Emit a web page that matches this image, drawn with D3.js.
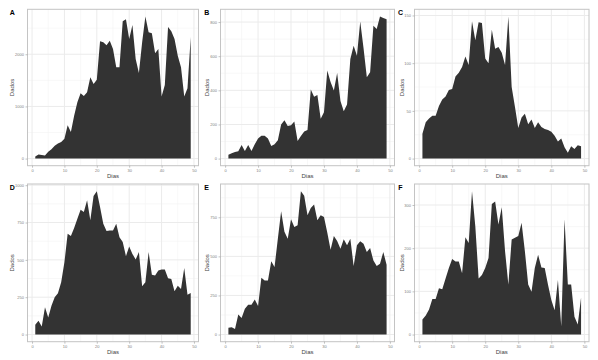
<!DOCTYPE html>
<html>
<head>
<meta charset="utf-8">
<script src="https://cdn.jsdelivr.net/npm/d3@7"></script>
<style>
  html, body { margin: 0; padding: 0; background: #ffffff; }
  svg { display: block; }
  text { font-family: "Liberation Sans", Arial, sans-serif; }
</style>
</head>
<body>
<svg id="chart" width="598" height="360"></svg>
<script>
// ---------------- DATA ----------------
const days = [1,2,3,4,5,6,7,8,9,10,11,12,13,14,15,16,17,18,19,20,21,22,23,24,25,26,27,28,29,30,31,32,33,34,35,36,37,38,39,40,41,42,43,44,45,46,47,48,49];

const panelLabels = ["A", "B", "C", "D", "E", "F"];

const seriesA = [40,77,70,60,130,180,245,290,320,380,640,510,820,1080,1250,1200,1270,1560,1430,1510,2250,2230,2170,2260,2100,1750,1750,2630,2670,2290,2560,1910,1640,2230,2725,2420,2400,2020,2100,1190,1410,2520,2440,2290,1970,1750,1190,1350,2330];
const seriesB = [23,31,39,43,80,45,80,45,84,117,134,134,117,74,84,107,200,224,191,195,218,103,132,158,167,405,362,372,233,272,516,449,399,502,337,278,317,584,661,603,803,648,477,506,778,759,833,823,817];
const seriesC = [26,38,42,45,45,55,62,65,72,73,86,90,96,107,98,144,124,143,142,105,100,135,115,117,111,98,149,75,54,32,43,47,36,41,32,38,33,31,30,28,24,18,21,12,6,13,10,14,13];
const seriesD = [65,92,54,182,114,193,249,276,350,484,675,659,713,776,836,821,899,765,928,960,854,742,693,697,697,742,652,619,525,590,540,502,552,323,350,552,401,395,428,435,435,377,372,289,327,305,446,267,278];
const seriesE = [43,47,36,128,105,165,190,190,224,182,363,346,346,468,432,613,788,658,613,737,688,699,917,887,763,810,831,731,763,752,652,543,630,598,549,609,571,613,438,571,596,581,528,553,474,438,453,528,447];
const seriesF = [35,44,58,82,82,107,105,130,154,175,169,169,142,225,212,332,251,130,138,154,177,302,308,255,295,193,116,220,224,228,259,193,116,99,154,185,155,154,115,80,56,126,19,267,116,116,41,23,86];

const xTicks = [0, 10, 20, 30, 40, 50];
const xMinor = [5, 15, 25, 35, 45];
const yTicksA = [0, 1000, 2000];
const yTicksB = [0, 200, 400, 600, 800];
const yTicksC = [0, 50, 100, 150];
const yTicksD = [0, 250, 500, 750, 1000];
const yTicksE = [0, 250, 500, 750];
const yTicksF = [0, 100, 200, 300];

const xTitle = "Dias";
const yTitle = "Dados";

// ---------------- LAYOUT ----------------
const colX = [[27.5, 198.5], [220.5, 394.5], [414.5, 589]];
const rowY = [[9.3, 165.7], [184, 341.7]];
const labelX = [12.3, 206.7, 400.5];
const titleX = [11.7, 206.7, 401.7];

const panels = [
  { label: panelLabels[0], data: seriesA, ticks: yTicksA, col: 0, row: 0 },
  { label: panelLabels[1], data: seriesB, ticks: yTicksB, col: 1, row: 0 },
  { label: panelLabels[2], data: seriesC, ticks: yTicksC, col: 2, row: 0 },
  { label: panelLabels[3], data: seriesD, ticks: yTicksD, col: 0, row: 1 },
  { label: panelLabels[4], data: seriesE, ticks: yTicksE, col: 1, row: 1 },
  { label: panelLabels[5], data: seriesF, ticks: yTicksF, col: 2, row: 1 }
];

const svg = d3.select("#chart");
svg.append("rect").attr("width", 598).attr("height", 360).attr("fill", "#ffffff");

panels.forEach(p => {
  const [x0, x1] = colX[p.col];
  const [y0, y1] = rowY[p.row];
  const dMin = d3.min(days), dMax = d3.max(days);
  const xPad = (dMax - dMin) * 0.05;
  const x = d3.scaleLinear().domain([dMin - xPad, dMax + xPad]).range([x0, x1]);
  const M = d3.max(p.data);
  const y = d3.scaleLinear().domain([-0.05 * M, 1.05 * M]).range([y1, y0]);

  const g = svg.append("g");

  g.append("rect").attr("x", x0).attr("y", y0).attr("width", x1 - x0).attr("height", y1 - y0)
    .attr("fill", "#ffffff");

  // minor grid
  const step = p.ticks[1] - p.ticks[0];
  const yMinor = p.ticks.map(t => t + step / 2).concat([p.ticks[0] - step / 2])
    .filter(v => v > y.domain()[0] && v < y.domain()[1]);
  g.selectAll(".ymin").data(yMinor).enter().append("line")
    .attr("x1", x0).attr("x2", x1).attr("y1", d => y(d)).attr("y2", d => y(d))
    .attr("stroke", "#f4f4f4").attr("stroke-width", 0.6);
  g.selectAll(".xmin").data(xMinor).enter().append("line")
    .attr("y1", y0).attr("y2", y1).attr("x1", d => x(d)).attr("x2", d => x(d))
    .attr("stroke", "#f4f4f4").attr("stroke-width", 0.6);
  // major grid
  const yMaj = p.ticks.filter(v => v <= y.domain()[1]);
  g.selectAll(".ymaj").data(yMaj).enter().append("line")
    .attr("x1", x0).attr("x2", x1).attr("y1", d => y(d)).attr("y2", d => y(d))
    .attr("stroke", "#ebebeb").attr("stroke-width", 1);
  g.selectAll(".xmaj").data(xTicks).enter().append("line")
    .attr("y1", y0).attr("y2", y1).attr("x1", d => x(d)).attr("x2", d => x(d))
    .attr("stroke", "#ebebeb").attr("stroke-width", 1);

  // area
  const area = d3.area().x((d, i) => x(days[i])).y0(y(0)).y1(d => y(d));
  g.append("path").datum(p.data).attr("d", area).attr("fill", "#333333");

  // panel border
  g.append("rect").attr("x", x0).attr("y", y0).attr("width", x1 - x0).attr("height", y1 - y0)
    .attr("fill", "none").attr("stroke", "#c4c4c4").attr("stroke-width", 1);

  // axes
  const xAxis = d3.axisBottom(x).tickValues(xTicks).tickSize(2).tickPadding(1.5).tickFormat(d3.format("d"));
  const gx = g.append("g").attr("transform", `translate(0,${y1})`).call(xAxis);
  const yAxis = d3.axisLeft(y).tickValues(yMaj).tickSize(2).tickPadding(1.5).tickFormat(d3.format("d"));
  const gy = g.append("g").attr("transform", `translate(${x0},0)`).call(yAxis);
  [gx, gy].forEach(a => {
    a.select(".domain").remove();
    a.selectAll(".tick line").attr("stroke", "#9a9a9a").attr("stroke-width", 0.6);
    a.selectAll(".tick text").attr("fill", "#808080").style("font-size", "4px")
      .style("font-family", "'Liberation Sans', Arial, sans-serif");
  });

  // axis titles
  g.append("text").attr("x", (x0 + x1) / 2).attr("y", y1 + 12)
    .attr("text-anchor", "middle").attr("fill", "#444").style("font-size", "6px").text(xTitle);
  g.append("text")
    .attr("transform", `translate(${titleX[p.col]},${(y0 + y1) / 2}) rotate(-90)`)
    .attr("text-anchor", "middle").attr("dominant-baseline", "central")
    .attr("fill", "#444").style("font-size", "6px").text(yTitle);

  // panel label
  g.append("text").attr("x", labelX[p.col]).attr("y", y0 + 5.8)
    .attr("text-anchor", "middle").attr("fill", "#000").style("font-size", "7px")
    .style("font-weight", "bold").text(p.label);
});
</script>
</body>
</html>
